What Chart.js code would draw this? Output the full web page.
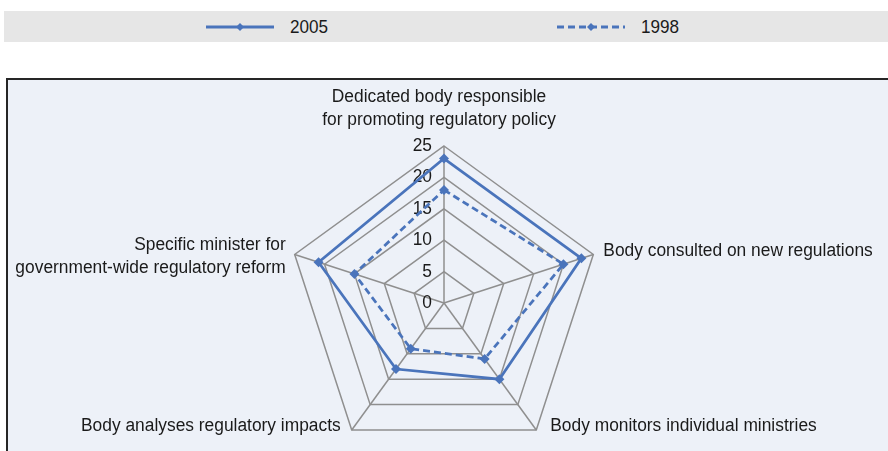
<!DOCTYPE html>
<html>
<head>
<meta charset="utf-8">
<script src="https://cdn.jsdelivr.net/npm/chart.js@4.4.1/dist/chart.umd.min.js"></script>
<style>
  html, body { margin: 0; padding: 0; width: 888px; height: 451px; overflow: hidden; background: #fff; }
  body { position: relative; font-family: 'Liberation Sans', Arial, sans-serif; }
  #legend { position: absolute; left: 4px; top: 11px; width: 884px; height: 31px; background: #e6e6e6; }
  .item { position: absolute; top: 0; height: 31px; display: flex; align-items: center; font-size: 19px; color: #1a1a1a; }
  .item svg { margin-right: 16px; }
  .item span { display: inline-block; transform: scaleX(0.9); transform-origin: left center; }
  #frame { position: absolute; left: 6px; top: 78px; width: 900px; height: 400px; border: 2px solid #262626; background: #edf1f8; }
  #wrap { position: absolute; left: 0; top: 0; width: 888px; height: 480px; }
</style>
</head>
<body>
<div id="legend"></div>
<div id="frame"></div>
<div id="wrap"><canvas id="chart"></canvas></div>
<script>
// axes (spokes), each label split in lines
var categories = [
    ['Dedicated body responsible', 'for promoting regulatory policy'],
    ['Body consulted on new regulations'],
    ['Body monitors individual ministries'],
    ['Body analyses regulatory impacts'],
    ['Specific minister for', 'government-wide regulatory reform']
];
var seriesNames = ['2005', '1998'];
var values2005 = [23, 23, 15, 13, 21];
var values1998 = [18, 20, 11, 9, 15];
var tickValues = [0, 5, 10, 15, 20, 25];

var blue = '#4a74bb';
var font = "'Liberation Sans', Arial, sans-serif";
var squeeze = 0.965;   // narrow look of the original font

// legend (html)
var legendPos = [206, 557];
var dashes = [[], [7, 4]];
seriesNames.forEach(function (name, i) {
    var div = document.createElement('div');
    div.className = 'item';
    div.style.left = (legendPos[i] - 4) + 'px';
    var dash = dashes[i].length ? ' stroke-dasharray="' + dashes[i].join(',') + '"' : '';
    div.innerHTML = '<svg width="68" height="10"><line x1="0" y1="5" x2="68" y2="5" stroke="' + blue +
        '" stroke-width="3"' + dash + '/><polygon points="34,1 38,5 34,9 30,5" fill="' + blue + '"/></svg>' +
        '<span>' + name + '</span>';
    document.getElementById('legend').appendChild(div);
});

// point label placement: offset from the outer vertex, alignment
var labelSpots = [
    { dx: -5, dy: -21, align: 'center', base: 'bottom' },
    { dx: 10, dy: -4, align: 'left', base: 'middle' },
    { dx: 14, dy: -5, align: 'left', base: 'middle' },
    { dx: -11, dy: -5, align: 'right', base: 'middle' },
    { dx: -9, dy: 1, align: 'right', base: 'middle' }
];
var lineH = 23;

function narrowText(ctx, t, x, y) {
    ctx.save();
    ctx.translate(x, y);
    ctx.scale(squeeze, 1);
    ctx.fillText(t, 0, 0);
    ctx.restore();
}

var radarText = {
    id: 'radarText',
    beforeDatasetsDraw: function (chart) {
        var ctx = chart.ctx;
        var scale = chart.scales.r;
        ctx.save();
        ctx.fillStyle = '#1a1a1a';
        ctx.font = '18px ' + font;

        // tick labels left of the vertical axis
        ctx.textAlign = 'right';
        ctx.textBaseline = 'middle';
        tickValues.forEach(function (v) {
            var d = scale.getDistanceFromCenterForValue(v);
            narrowText(ctx, String(v), scale.xCenter - 12, scale.yCenter - d);
        });

        // spoke labels
        categories.forEach(function (lines, i) {
            var p = scale.getPointPosition(i, scale.drawingArea);
            var s = labelSpots[i];
            ctx.textAlign = s.align;
            ctx.textBaseline = 'alphabetic';
            var n = lines.length;
            var y0;
            if (s.base === 'bottom') {
                y0 = p.y + s.dy - (n - 1) * lineH;
            } else {
                y0 = p.y + s.dy - (n - 1) * lineH / 2 + 6;
            }
            lines.forEach(function (t, k) {
                narrowText(ctx, t, p.x + s.dx, y0 + k * lineH);
            });
        });
        ctx.restore();
    }
};

new Chart(document.getElementById('chart'), {
    type: 'radar',
    data: {
        labels: categories,
        datasets: [{
            label: seriesNames[0],
            data: values2005,
            borderColor: blue,
            backgroundColor: blue,
            borderWidth: 2.75,
            fill: false,
            pointStyle: 'rectRot',
            pointRadius: 5,
            pointBackgroundColor: blue,
            pointBorderWidth: 0
        }, {
            label: seriesNames[1],
            data: values1998,
            borderColor: blue,
            backgroundColor: blue,
            borderWidth: 2.75,
            borderDash: [7, 4],
            fill: false,
            pointStyle: 'rectRot',
            pointRadius: 5,
            pointBackgroundColor: blue,
            pointBorderWidth: 0
        }]
    },
    options: {
        responsive: true,
        maintainAspectRatio: false,
        animation: false,
        layout: { padding: { left: 287, right: 287, top: 146, bottom: 20 } },
        plugins: {
            legend: { display: false },
            tooltip: { enabled: false }
        },
        elements: { line: { tension: 0 } },
        scales: {
            r: {
                min: 0,
                max: 25,
                ticks: { display: false, stepSize: 5 },
                pointLabels: { display: false },
                grid: { color: '#8f8f8f', lineWidth: 1.5 },
                angleLines: { color: '#8f8f8f', lineWidth: 1.5 }
            }
        }
    },
    plugins: [radarText]
});
</script>
</body>
</html>
